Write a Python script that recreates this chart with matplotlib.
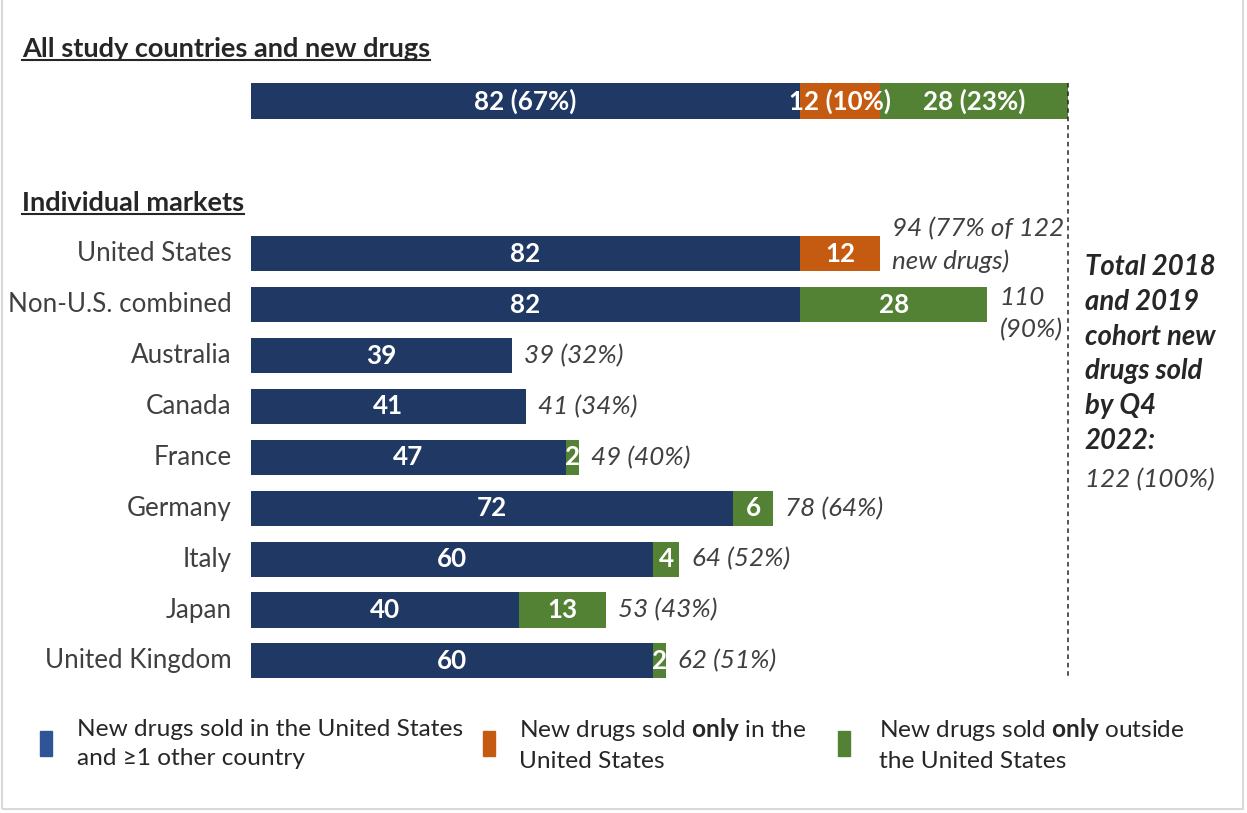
"""Stacked bars: 2018-2019 cohort new drugs sold by market (Q4 2022)."""

import matplotlib

matplotlib.use("Agg")
import matplotlib.pyplot as plt
from matplotlib.lines import Line2D
from matplotlib.patches import Rectangle

plt.rcParams["font.family"] = ["Lato", "DejaVu Sans"]
plt.rcParams["mathtext.fontset"] = "custom"
plt.rcParams["mathtext.rm"] = "Lato"
plt.rcParams["mathtext.bf"] = "Lato:bold"

W, H = 1247, 813

# overall cohort
TOTAL_DRUGS = 122
all_both = 82
all_us_only = 12
all_outside_only = 28

# individual markets
markets = [
    "United States",
    "Non-U.S. combined",
    "Australia",
    "Canada",
    "France",
    "Germany",
    "Italy",
    "Japan",
    "United Kingdom",
]
sold_both = [82, 82, 39, 41, 47, 72, 60, 40, 60]
sold_us_only = [12, 0, 0, 0, 0, 0, 0, 0, 0]
sold_outside_only = [0, 28, 0, 0, 2, 6, 4, 13, 2]

legend_labels = [
    "New drugs sold in the United States\nand \u22651 other country",
    "New drugs sold $\\mathbf{only}$ in the\nUnited States",
    "New drugs sold $\\mathbf{only}$ outside\nthe United States",
]

NAVY = "#203864"
ORANGE = "#C55A11"
GREEN = "#548235"
LEGEND_BLUE = "#2F5597"
TEXT = "#404040"
DARK = "#262626"

PX_PER_UNIT = 549 / 82
X0_PX = 251
ROW0_PX, ROW_STEP_PX = 101, 50.9
FS = 18.7


def fx(px):
    return px / W


def fy(py):
    return 1 - py / H


fig = plt.figure(figsize=(W / 100, H / 100), dpi=100)
ax = fig.add_axes([fx(X0_PX), 0, 1 - fx(X0_PX), 1])
ax.set_xlim(0, (W - X0_PX) / PX_PER_UNIT)
ax.set_ylim((H - ROW0_PX) / ROW_STEP_PX, -ROW0_PX / ROW_STEP_PX)
ax.axis("off")

bar_h = 0.69
lab_kw = dict(ha="center", va="center", color="white", fontsize=FS, fontweight="bold")

# overall bar at row 0
left = 0
for value, color in [(all_both, NAVY), (all_us_only, ORANGE), (all_outside_only, GREEN)]:
    ax.barh(0, value, left=left, height=bar_h, color=color)
    pct = round(100 * value / TOTAL_DRUGS)
    ax.text(left + value / 2, 0, f"{value} ({pct}%)", **lab_kw)
    left += value

# market bars start at row 3
rows = [3 + i for i in range(len(markets))]
ax.barh(rows, sold_both, height=bar_h, color=NAVY)
lefts = list(sold_both)
ax.barh(rows, sold_us_only, left=lefts, height=bar_h, color=ORANGE)
lefts = [a + b for a, b in zip(lefts, sold_us_only)]
ax.barh(rows, sold_outside_only, left=lefts, height=bar_h, color=GREEN)

for i, row in enumerate(rows):
    ax.text(-2.9, row, markets[i], ha="right", va="center", color=TEXT, fontsize=FS)
    ax.text(sold_both[i] / 2, row, str(sold_both[i]), **lab_kw)
    for value, start in [(sold_us_only[i], sold_both[i]), (sold_outside_only[i], sold_both[i] + sold_us_only[i])]:
        if value:
            ax.text(start + value / 2, row, str(value), **lab_kw)
    total = sold_both[i] + sold_us_only[i] + sold_outside_only[i]
    pct = round(100 * total / TOTAL_DRUGS)
    if i == 0:
        label, y = f"{total} ({pct}% of {TOTAL_DRUGS}\nnew drugs)", row - 0.17
    elif i == 1:
        label, y = f"{total}\n({pct}%)", row + 0.18
    else:
        label, y = f"{total} ({pct}%)", row
    ax.text(total + 1.8, y, label, ha="left", va="center", color=TEXT,
            fontsize=FS, style="italic", linespacing=1.45)

# dashed total line
ax.plot([TOTAL_DRUGS, TOTAL_DRUGS], [-bar_h / 2, rows[-1] + bar_h / 2],
        color=DARK, linestyle=(0, (3, 2.5)), linewidth=1.1)

ax.text(TOTAL_DRUGS + 2.5, 4.97, "Total 2018\nand 2019\ncohort new\ndrugs sold\nby Q4\n2022:",
        ha="left", va="center", color=DARK, fontsize=19.8, fontweight="bold",
        style="italic", linespacing=1.42)
ax.text(TOTAL_DRUGS + 2.5, 7.43, f"{TOTAL_DRUGS} (100%)", ha="left", va="center",
        color=TEXT, fontsize=FS, style="italic")

# section headings with underline
headings = []
for text, ypx in [("All study countries and new drugs", 49), ("Individual markets", 203)]:
    headings.append(fig.text(fx(22), fy(ypx), text, ha="left", va="center",
                             color=DARK, fontsize=19.5, fontweight="bold"))

# legend
for i, label in enumerate(legend_labels):
    box_x = [40, 483, 838][i]
    text_x = [77, 519, 879][i]
    color = [LEGEND_BLUE, ORANGE, GREEN][i]
    fig.patches.append(Rectangle((fx(box_x), fy(756)), 12 / W, 25 / H,
                                 transform=fig.transFigure, color=color))
    fig.text(fx(text_x), fy(744), label, ha="left", va="center", color=DARK,
             fontsize=17.6, linespacing=1.5)

# light frame
fig.patches.append(Rectangle((fx(2), fy(809)), fx(1241), 1, transform=fig.transFigure,
                             fill=False, edgecolor="#d9d9d9", linewidth=1.5))

fig.canvas.draw()
renderer = fig.canvas.get_renderer()
for t in headings:
    bb = t.get_window_extent(renderer)
    y = bb.y0 + 1
    fig.lines.append(Line2D([bb.x0 / W, bb.x1 / W], [y / H, y / H],
                            transform=fig.transFigure, color=DARK, linewidth=1.5))

fig.savefig("out.png", dpi=100)
